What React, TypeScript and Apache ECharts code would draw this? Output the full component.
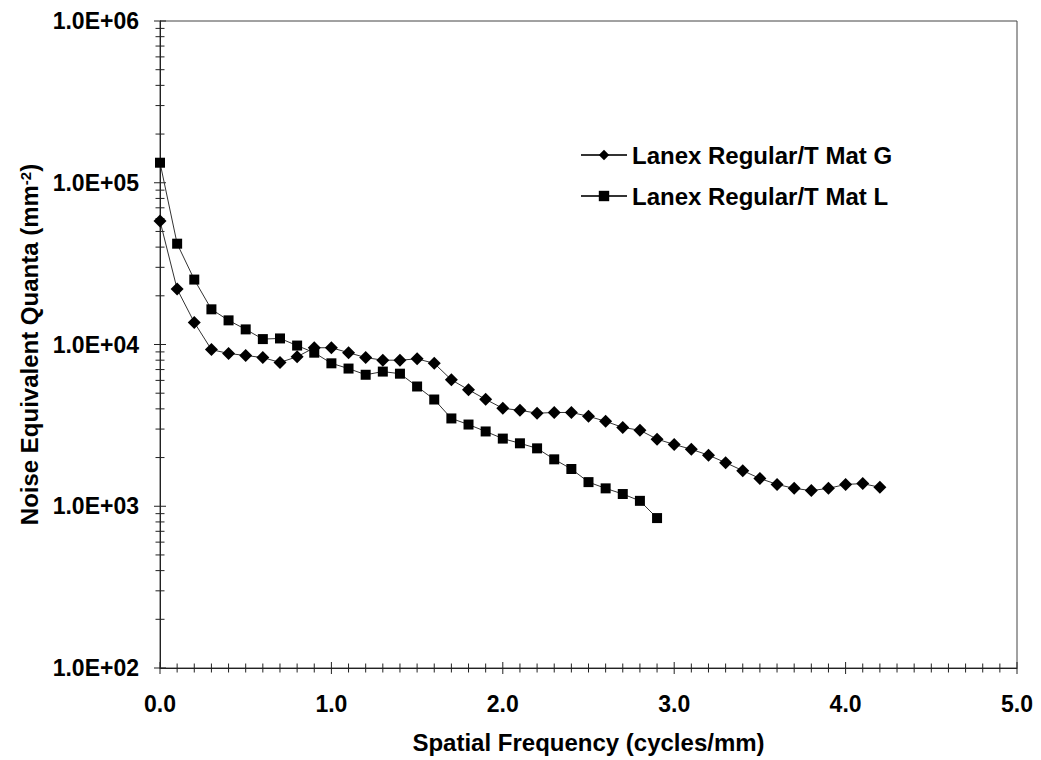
import React, { useEffect, useRef } from "react";
import * as echarts from "echarts";

const FONT = "'Liberation Sans', Arial, sans-serif";

const seriesGName = "Lanex Regular/T Mat G";
const seriesLName = "Lanex Regular/T Mat L";

const xG = [0.0, 0.1, 0.2, 0.3, 0.4, 0.5, 0.6, 0.7, 0.8, 0.9, 1.0, 1.1, 1.2, 1.3, 1.4, 1.5, 1.6, 1.7, 1.8, 1.9, 2.0, 2.1, 2.2, 2.3, 2.4, 2.5, 2.6, 2.7, 2.8, 2.9, 3.0, 3.1, 3.2, 3.3, 3.4, 3.5, 3.6, 3.7, 3.8, 3.9, 4.0, 4.1, 4.2];
const yG = [58000, 22000, 13700, 9300, 8800, 8550, 8300, 7750, 8400, 9550, 9550, 8900, 8300, 8000, 8000, 8150, 7650, 6050, 5250, 4580, 4030, 3920, 3760, 3800, 3800, 3600, 3350, 3070, 2950, 2600, 2410, 2250, 2070, 1860, 1660, 1485, 1365, 1290, 1250, 1290, 1365, 1380, 1310];

const xL = [0.0, 0.1, 0.2, 0.3, 0.4, 0.5, 0.6, 0.7, 0.8, 0.9, 1.0, 1.1, 1.2, 1.3, 1.4, 1.5, 1.6, 1.7, 1.8, 1.9, 2.0, 2.1, 2.2, 2.3, 2.4, 2.5, 2.6, 2.7, 2.8, 2.9];
const yL = [133000, 42000, 25200, 16500, 14100, 12400, 10800, 10900, 9850, 8900, 7650, 7100, 6500, 6800, 6600, 5500, 4570, 3490, 3200, 2900, 2620, 2450, 2280, 1950, 1700, 1410, 1290, 1190, 1080, 845];

const yMajorTicks = [100, 1000, 10000, 100000, 1000000];
const yMinorMultipliers = [2, 3, 4, 5, 6, 7, 8, 9];
const xMajorTicks = [0, 1, 2, 3, 4, 5];
const xMinorTicks = [0.1, 0.2, 0.3, 0.4, 0.5, 0.6, 0.7, 0.8, 0.9];

const X_MIN = 0;
const X_MAX = 5;
const Y_MIN = 100;
const Y_MAX = 1000000;

export default function App() {
  const ref = useRef<HTMLDivElement>(null);

  useEffect(() => {
    if (!ref.current) return;
    const chart = echarts.init(ref.current, undefined, { renderer: "svg" });

    const yTickData: any[] = [];
    yMajorTicks.forEach((v) => yTickData.push([X_MIN, v, 1]));
    yMajorTicks.slice(0, -1).forEach((v) =>
      yMinorMultipliers.forEach((m) => yTickData.push([X_MIN, v * m, 0]))
    );
    const xTickData: any[] = [];
    xMajorTicks.forEach((v) => xTickData.push([v, Y_MIN, 1]));
    xMajorTicks.slice(0, -1).forEach((v) =>
      xMinorTicks.forEach((m) => xTickData.push([v + m, Y_MIN, 0]))
    );

    const makePairs = (xs: number[], ys: number[]) => xs.map((x, i) => [x, ys[i]]);

    const textBase = { fontFamily: FONT, fontWeight: "bold" as const, color: "#000" };

    chart.setOption({
      animation: false,
      backgroundColor: "#fff",
      grid: {
        left: 160,
        right: 24,
        top: 21,
        bottom: 92,
        show: true,
        borderColor: "#444",
        borderWidth: 1,
        backgroundColor: "transparent",
      },
      legend: {
        orient: "vertical",
        left: 575,
        top: 138,
        itemWidth: 46,
        itemHeight: 13,
        itemGap: 17,
        data: [seriesGName, seriesLName],
        textStyle: { ...textBase, fontSize: 24 },
        selectedMode: false,
      },
      xAxis: {
        type: "value",
        min: X_MIN,
        max: X_MAX,
        interval: 1,
        name: "Spatial Frequency (cycles/mm)",
        nameLocation: "middle",
        nameGap: 62,
        nameTextStyle: { ...textBase, fontSize: 24 },
        axisLine: { show: true, lineStyle: { color: "#222", width: 1 } },
        axisTick: { show: false },
        splitLine: { show: false },
        axisLabel: {
          ...textBase,
          fontSize: 23,
          margin: 24,
          formatter: (v: number) => v.toFixed(1),
        },
      },
      yAxis: {
        type: "log",
        logBase: 10,
        min: Y_MIN,
        max: Y_MAX,
        name: "Noise Equivalent Quanta (mm{sup|-2})",
        nameLocation: "middle",
        nameRotate: 90,
        nameGap: 114,
        nameTextStyle: {
          ...textBase,
          fontSize: 24,
          rich: {
            sup: { ...textBase, fontSize: 15, verticalAlign: "top", lineHeight: 15, padding: [0, 0, 6, 0] },
          },
        },
        axisLine: { show: true, lineStyle: { color: "#222", width: 1 } },
        axisTick: { show: false },
        splitLine: { show: false },
        minorTick: { show: false },
        axisLabel: {
          ...textBase,
          fontSize: 23,
          margin: 21,
          formatter: (v: number) => {
            const e = Math.round(Math.log10(v));
            const mant = v / Math.pow(10, e);
            return mant.toFixed(1) + "E+" + String(e).padStart(2, "0");
          },
        },
      },
      series: [
        {
          name: seriesGName,
          type: "line",
          data: makePairs(xG, yG),
          symbol: "diamond",
          symbolSize: [13, 13],
          itemStyle: { color: "#000" },
          lineStyle: { color: "#333", width: 1 },
          z: 3,
        },
        {
          name: seriesLName,
          type: "line",
          data: makePairs(xL, yL),
          symbol: "rect",
          symbolSize: 10,
          itemStyle: { color: "#000" },
          lineStyle: { color: "#333", width: 1 },
          z: 3,
        },
        {
          type: "custom",
          silent: true,
          clip: false,
          data: yTickData,
          renderItem: (params: any, api: any) => {
            const p = api.coord([api.value(0), api.value(1)]);
            const h = api.value(2) === 1 ? 6 : 4.5;
            return {
              type: "line",
              shape: { x1: p[0] - h, y1: p[1], x2: p[0] + h, y2: p[1] },
              style: { stroke: "#222", lineWidth: 1 },
            };
          },
        },
        {
          type: "custom",
          silent: true,
          clip: false,
          data: xTickData,
          renderItem: (params: any, api: any) => {
            const p = api.coord([api.value(0), api.value(1)]);
            const h = api.value(2) === 1 ? 6 : 4.5;
            return {
              type: "line",
              shape: { x1: p[0], y1: p[1] - h, x2: p[0], y2: p[1] + h },
              style: { stroke: "#222", lineWidth: 1 },
            };
          },
        },
      ],
    });

    return () => chart.dispose();
  }, []);

  return <div ref={ref} style={{ width: 1041, height: 760, position: "absolute", left: 0, top: 0 }} />;
}
